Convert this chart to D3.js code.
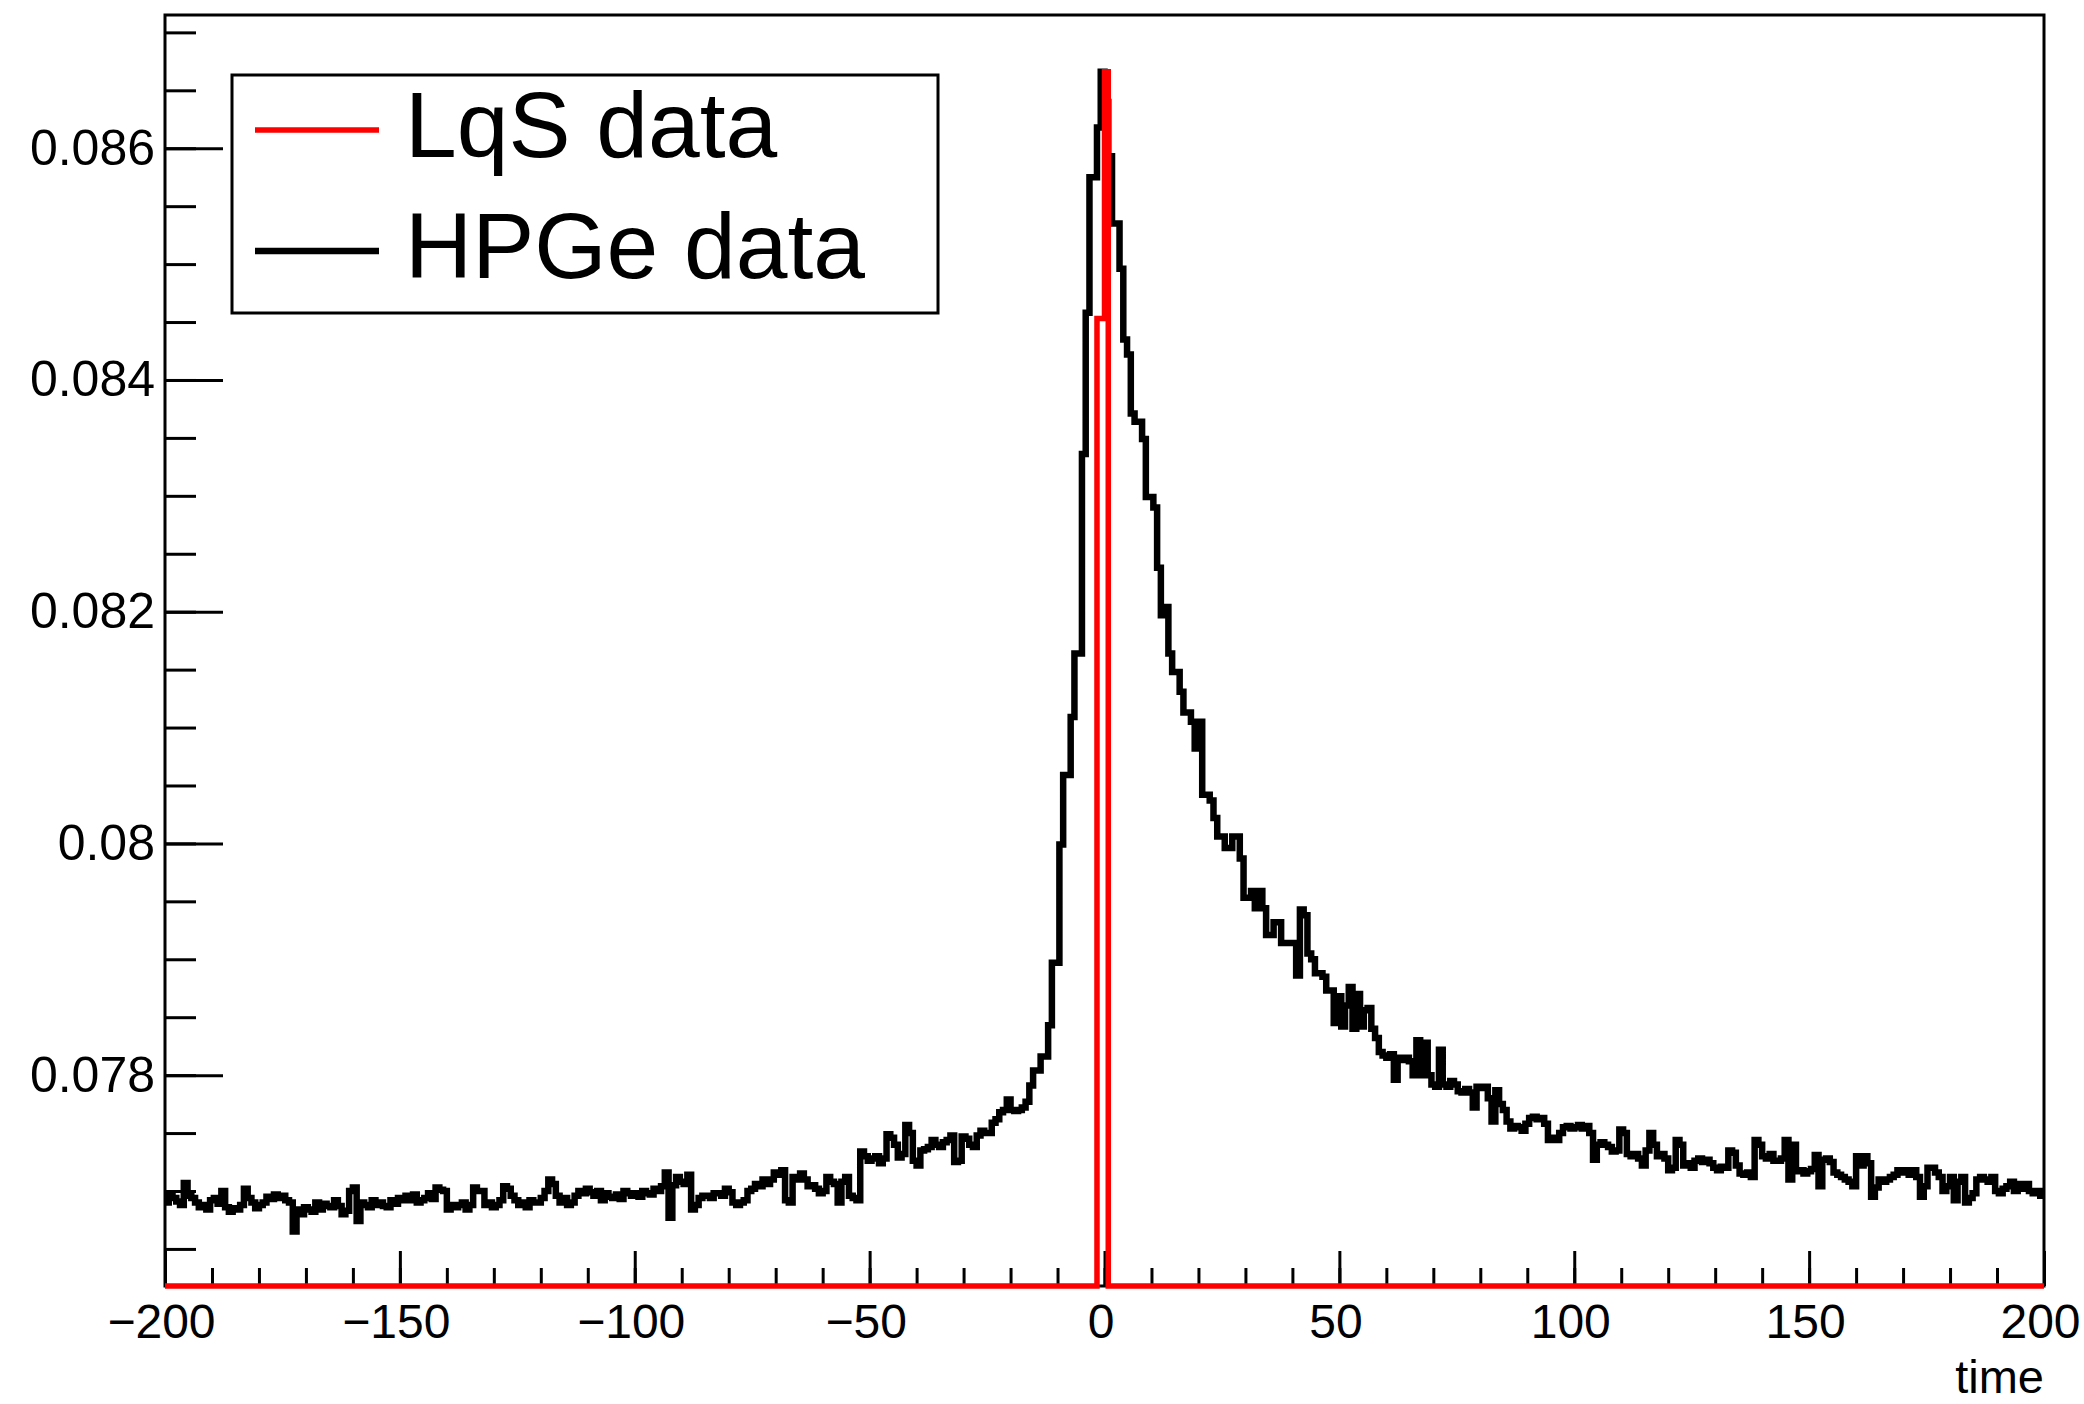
<!DOCTYPE html>
<html>
<head>
<meta charset="utf-8">
<script src="https://cdn.jsdelivr.net/npm/d3@7"></script>
<style>
  body { margin: 0; background: #fff; }
  svg text { font-family: "Liberation Sans", Arial, Helvetica, sans-serif; }
</style>
</head>
<body>
<div id="chart"></div>
<script>
// binning of both histograms
const xMin = -200, xMax = 200, nBins = 500;

// HPGe data, one value per bin (bin width 0.8)
const hpgeValues = [
  0.07690, 0.07696, 0.07694, 0.07691, 0.07688, 0.07707, 0.07696, 0.07694, 0.07690, 0.07686,
  0.07688, 0.07684, 0.07692, 0.07694, 0.07689, 0.07700, 0.07686, 0.07682, 0.07685, 0.07684,
  0.07688, 0.07702, 0.07694, 0.07690, 0.07685, 0.07688, 0.07690, 0.07695, 0.07693, 0.07697,
  0.07694, 0.07696, 0.07692, 0.07690, 0.07665, 0.07684, 0.07680, 0.07686, 0.07684, 0.07682,
  0.07690, 0.07684, 0.07689, 0.07687, 0.07686, 0.07692, 0.07687, 0.07680, 0.07683, 0.07700,
  0.07703, 0.07674, 0.07690, 0.07688, 0.07686, 0.07692, 0.07688, 0.07690, 0.07687, 0.07686,
  0.07692, 0.07689, 0.07694, 0.07692, 0.07696, 0.07692, 0.07697, 0.07690, 0.07692, 0.07694,
  0.07698, 0.07693, 0.07703, 0.07701, 0.07700, 0.07684, 0.07688, 0.07686, 0.07688, 0.07690,
  0.07684, 0.07688, 0.07703, 0.07700, 0.07700, 0.07688, 0.07690, 0.07686, 0.07688, 0.07692,
  0.07704, 0.07702, 0.07696, 0.07692, 0.07688, 0.07690, 0.07686, 0.07692, 0.07690, 0.07690,
  0.07694, 0.07700, 0.07710, 0.07706, 0.07696, 0.07690, 0.07694, 0.07688, 0.07690, 0.07696,
  0.07700, 0.07698, 0.07702, 0.07699, 0.07696, 0.07700, 0.07692, 0.07698, 0.07695, 0.07694,
  0.07697, 0.07693, 0.07700, 0.07698, 0.07696, 0.07698, 0.07695, 0.07700, 0.07698, 0.07697,
  0.07702, 0.07700, 0.07704, 0.07716, 0.07677, 0.07705, 0.07712, 0.07708, 0.07706, 0.07714,
  0.07684, 0.07688, 0.07694, 0.07696, 0.07696, 0.07694, 0.07698, 0.07698, 0.07696, 0.07702,
  0.07699, 0.07690, 0.07688, 0.07690, 0.07692, 0.07700, 0.07702, 0.07706, 0.07704, 0.07710,
  0.07706, 0.07710, 0.07716, 0.07714, 0.07718, 0.07692, 0.07690, 0.07712, 0.07710, 0.07715,
  0.07710, 0.07704, 0.07705, 0.07702, 0.07698, 0.07700, 0.07712, 0.07708, 0.07706, 0.07690,
  0.07708, 0.07712, 0.07696, 0.07694, 0.07692, 0.07734, 0.07730, 0.07726, 0.07728, 0.07730,
  0.07724, 0.07728, 0.07749, 0.07746, 0.07740, 0.07729, 0.07732, 0.07757, 0.07750, 0.07726,
  0.07722, 0.07735, 0.07736, 0.07738, 0.07744, 0.07740, 0.07738, 0.07742, 0.07744, 0.07748,
  0.07725, 0.07726, 0.07747, 0.07745, 0.07740, 0.07738, 0.07748, 0.07752, 0.07750, 0.07750,
  0.07759, 0.07762, 0.07768, 0.07770, 0.07779, 0.07770, 0.07769, 0.07770, 0.07772, 0.07777,
  0.07791, 0.07804, 0.07804, 0.07816, 0.07816, 0.07843, 0.07897, 0.07897, 0.07999, 0.08059,
  0.08059, 0.08109, 0.08164, 0.08164, 0.08336, 0.08458, 0.08575, 0.08575, 0.08618, 0.08666,
  0.08640, 0.08593, 0.08535, 0.08535, 0.08496, 0.08435, 0.08422, 0.08371, 0.08364, 0.08364,
  0.08349, 0.08299, 0.08299, 0.08290, 0.08238, 0.08197, 0.08204, 0.08164, 0.08148, 0.08148,
  0.08131, 0.08113, 0.08113, 0.08105, 0.08082, 0.08105, 0.08042, 0.08042, 0.08037, 0.08022,
  0.08006, 0.08006, 0.07996, 0.07996, 0.08006, 0.08006, 0.07987, 0.07953, 0.07953, 0.07959,
  0.07944, 0.07959, 0.07944, 0.07921, 0.07921, 0.07932, 0.07932, 0.07914, 0.07914, 0.07914,
  0.07914, 0.07886, 0.07943, 0.07938, 0.07905, 0.07900, 0.07888, 0.07888, 0.07885, 0.07873,
  0.07873, 0.07845, 0.07868, 0.07842, 0.07860, 0.07876, 0.07840, 0.07870, 0.07842, 0.07856,
  0.07858, 0.07840, 0.07832, 0.07820, 0.07817, 0.07815, 0.07818, 0.07796, 0.07815, 0.07813,
  0.07815, 0.07812, 0.07800, 0.07830, 0.07800, 0.07828, 0.07800, 0.07792, 0.07790, 0.07822,
  0.07792, 0.07790, 0.07795, 0.07792, 0.07786, 0.07785, 0.07788, 0.07785, 0.07772, 0.07790,
  0.07789, 0.07790, 0.07780, 0.07760, 0.07787, 0.07775, 0.07770, 0.07760, 0.07754, 0.07756,
  0.07755, 0.07752, 0.07758, 0.07763, 0.07764, 0.07762, 0.07763, 0.07758, 0.07744, 0.07746,
  0.07744, 0.07750, 0.07755, 0.07756, 0.07754, 0.07755, 0.07757, 0.07754, 0.07756, 0.07750,
  0.07727, 0.07740, 0.07742, 0.07740, 0.07738, 0.07734, 0.07735, 0.07753, 0.07750, 0.07732,
  0.07730, 0.07732, 0.07728, 0.07722, 0.07735, 0.07750, 0.07740, 0.07730, 0.07732, 0.07728,
  0.07718, 0.07720, 0.07744, 0.07740, 0.07722, 0.07724, 0.07720, 0.07726, 0.07728, 0.07725,
  0.07727, 0.07724, 0.07720, 0.07718, 0.07721, 0.07720, 0.07735, 0.07733, 0.07722, 0.07715,
  0.07714, 0.07716, 0.07712, 0.07744, 0.07740, 0.07730, 0.07728, 0.07732, 0.07726, 0.07726,
  0.07728, 0.07744, 0.07710, 0.07740, 0.07717, 0.07718, 0.07715, 0.07717, 0.07719, 0.07731,
  0.07704, 0.07727, 0.07728, 0.07725, 0.07716, 0.07714, 0.07712, 0.07710, 0.07708, 0.07704,
  0.07730, 0.07722, 0.07730, 0.07724, 0.07695, 0.07703, 0.07710, 0.07708, 0.07710, 0.07712,
  0.07714, 0.07718, 0.07716, 0.07718, 0.07714, 0.07718, 0.07712, 0.07695, 0.07704, 0.07720,
  0.07720, 0.07716, 0.07712, 0.07700, 0.07704, 0.07712, 0.07692, 0.07708, 0.07712, 0.07690,
  0.07694, 0.07698, 0.07710, 0.07712, 0.07710, 0.07708, 0.07712, 0.07700, 0.07698, 0.07702,
  0.07704, 0.07708, 0.07700, 0.07706, 0.07702, 0.07706, 0.07700, 0.07698, 0.07700, 0.07696
];

// LqS data: only these bins are filled, all others are empty
const lqsBinLow = [-1.6, -0.8, 0.0];
const lqsValues = [0.08453, 0.08453, 0.08666];

// axes
const xMajorTicks = [-200, -150, -100, -50, 0, 50, 100, 150, 200];
const yMajorTicks = [0.078, 0.080, 0.082, 0.084, 0.086];
const yTickLabels = ["0.078", "0.08", "0.082", "0.084", "0.086"];
const legendLabels = ["LqS data", "HPGe data"];
const xTitle = "time";

const width = 2084, height = 1404;
const frame = { left: 165, right: 2044, top: 15, bottom: 1286 };
const font = '"Liberation Sans", Arial, Helvetica, sans-serif';

const svg = d3.select("#chart").append("svg")
  .attr("width", width)
  .attr("height", height)
  .attr("viewBox", [0, 0, width, height]);

svg.append("rect").attr("width", width).attr("height", height).attr("fill", "#fff");

const x = d3.scaleLinear().domain([xMin, xMax]).range([frame.left, frame.right]);
const y = d3.scaleLinear().domain([0.07618, 0.08715]).range([frame.bottom, frame.top]).clamp(true);

const binW = (xMax - xMin) / nBins;
const edges = d3.range(nBins + 1).map(k => xMin + k * binW);

const lqsFull = d3.range(nBins).map(k => {
  const i = lqsBinLow.findIndex(b => Math.abs(b - edges[k]) < 1e-6);
  return i >= 0 ? lqsValues[i] : 0;
});

// frame
svg.append("rect")
  .attr("x", frame.left).attr("y", frame.top)
  .attr("width", frame.right - frame.left)
  .attr("height", frame.bottom - frame.top)
  .attr("fill", "none").attr("stroke", "#000").attr("stroke-width", 3);

function styleAxis(g) {
  g.select(".domain").remove();
  g.selectAll(".tick line").attr("stroke", "#000").attr("stroke-width", 3);
  g.attr("font-family", font).attr("font-size", 48);
  g.selectAll(".tick text").attr("fill", "#000");
}

// x axis: minor + major ticks pointing inside
svg.append("g")
  .attr("transform", `translate(0,${frame.bottom})`)
  .call(d3.axisBottom(x).tickValues(d3.range(xMin, xMax + 1, 10)).tickSize(-18).tickFormat(""))
  .call(styleAxis);

svg.append("g")
  .attr("transform", `translate(0,${frame.bottom})`)
  .call(d3.axisBottom(x).tickValues(xMajorTicks).tickSize(-35).tickPadding(18)
    .tickFormat(d => d < 0 ? "\u2212" + Math.abs(d) : String(d)))
  .call(styleAxis)
  .call(g => g.selectAll(".tick text").attr("dx", -4));

// y axis
svg.append("g")
  .attr("transform", `translate(${frame.left},0)`)
  .call(d3.axisLeft(y).tickValues(d3.range(0.0765, 0.08701, 0.0005)).tickSize(-31).tickFormat(""))
  .call(styleAxis);

svg.append("g")
  .attr("transform", `translate(${frame.left},0)`)
  .call(d3.axisLeft(y).tickValues(yMajorTicks).tickSize(-58).tickPadding(10)
    .tickFormat((d, i) => yTickLabels[i]))
  .call(styleAxis)
  .call(g => g.selectAll(".tick text").attr("font-size", 50));

svg.append("text")
  .attr("x", frame.right).attr("y", 1393)
  .attr("text-anchor", "end")
  .attr("font-size", 47)
  .text(xTitle);

// histograms drawn as steps
const step = d3.line()
  .x(d => x(d[0]))
  .y(d => y(d[1]))
  .curve(d3.curveStepAfter);

function histPoints(vals) {
  const pts = vals.map((v, k) => [edges[k], v]);
  pts.push([edges[nBins], vals[nBins - 1]]);
  return pts;
}

svg.append("path")
  .attr("d", step(histPoints(hpgeValues)))
  .attr("fill", "none").attr("stroke", "#000")
  .attr("stroke-width", 6.5).attr("stroke-linejoin", "miter");

svg.append("path")
  .attr("d", step(histPoints(lqsFull)))
  .attr("fill", "none").attr("stroke", "#ff0000")
  .attr("stroke-width", 5.5).attr("stroke-linejoin", "miter");

// legend
const legend = svg.append("g");
legend.append("rect")
  .attr("x", 232).attr("y", 75).attr("width", 706).attr("height", 238)
  .attr("fill", "#fff").attr("stroke", "#000").attr("stroke-width", 3);

const legendColors = ["#ff0000", "#000"];
const legendRows = [130, 251];
legendLabels.forEach((lab, i) => {
  legend.append("line")
    .attr("x1", 255).attr("x2", 379)
    .attr("y1", legendRows[i]).attr("y2", legendRows[i])
    .attr("stroke", legendColors[i]).attr("stroke-width", i === 0 ? 5.5 : 6.5);
  legend.append("text")
    .attr("x", 405).attr("y", legendRows[i] + 27)
    .attr("font-size", 93)
    .text(lab);
});
</script>
</body>
</html>
